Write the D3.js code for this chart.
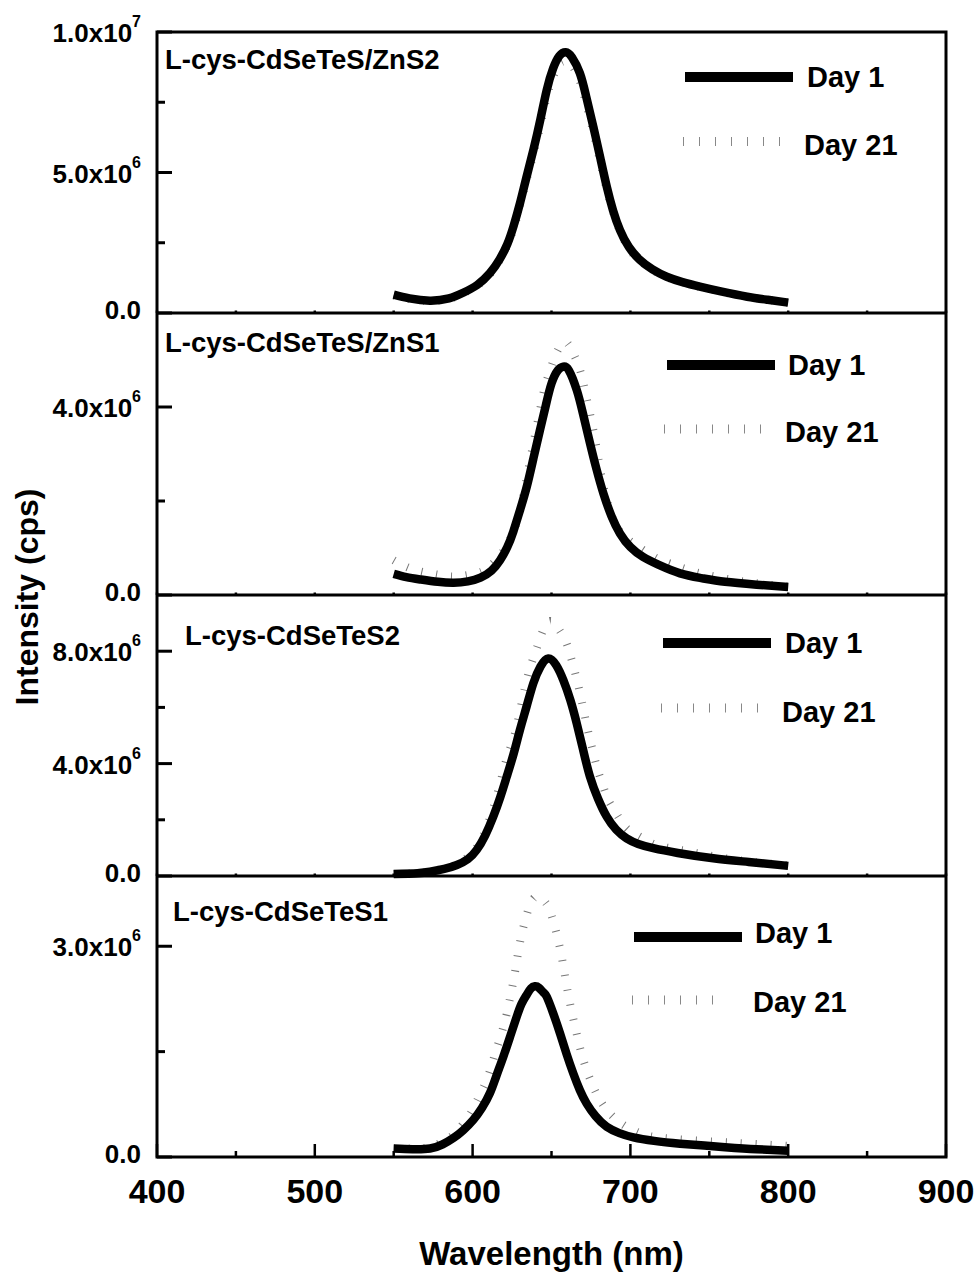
<!DOCTYPE html>
<html><head><meta charset="utf-8">
<script src="https://cdn.jsdelivr.net/npm/d3@7"></script>
<style>body{margin:0;background:#fff}svg{display:block}text{font-family:"Liberation Sans",Arial,sans-serif;font-weight:bold;fill:#000}</style>
</head><body><svg id="c" width="979" height="1276"></svg>
<script>
// ---------- data (intensity in units of 1e6 cps) ----------
const panelNames = ["L-cys-CdSeTeS/ZnS2","L-cys-CdSeTeS/ZnS1","L-cys-CdSeTeS2","L-cys-CdSeTeS1"];
const seriesNames = ["Day 1","Day 21"];
const yMax = [10, 6, 10, 4];
const yMajorTicks = [[0,5,10],[0,4],[0,4,8],[0,3]];
const yMinorTicks = [[2.5,7.5],[2],[2,6],[1.5]];
const xTicks = [400,500,600,700,800,900];
const xMinorTicks = [450,550,650,750,850];

const p1Day1 = [[550,0.65],[560,0.52],[573,0.44],[585,0.52],[594,0.72],[603,1.0],[611,1.42],[617,1.9],[622,2.45],[626,3.1],[630,3.9],[634,4.8],[638.5,5.8],[643,6.9],[647,7.94],[651,8.7],[655,9.15],[659,9.28],[663,9.1],[668,8.53],[672,7.7],[676.5,6.63],[681,5.5],[685,4.5],[689,3.65],[693.4,2.95],[699,2.35],[706,1.89],[714,1.55],[723,1.29],[733,1.1],[744,0.94],[758,0.76],[774,0.58],[787,0.47],[800,0.37]];
const p1Day21 = [[550,0.62],[560,0.5],[573,0.43],[585,0.5],[594,0.7],[603,0.97],[611,1.38],[617,1.85],[622,2.4],[626,3.0],[630,3.8],[634,4.7],[638.5,5.65],[643,6.7],[647,7.7],[651,8.4],[655,8.85],[659,8.95],[663,8.8],[668,8.25],[672,7.45],[676.5,6.45],[681,5.35],[685,4.4],[689,3.6],[693.4,2.9],[699,2.3],[706,1.86],[714,1.53],[723,1.27],[733,1.09],[744,0.93],[758,0.75],[774,0.58],[787,0.47],[800,0.37]];
const p2Day1 = [[550,0.45],[558,0.38],[567,0.33],[578,0.28],[588,0.26],[597,0.29],[605,0.37],[612,0.52],[617.4,0.74],[622,1.02],[625.8,1.35],[630,1.8],[634.3,2.3],[638.5,2.9],[642.7,3.51],[646.5,4.05],[650,4.5],[654,4.78],[657.5,4.86],[661,4.78],[666,4.36],[670,3.85],[674.4,3.23],[678.5,2.68],[682.9,2.16],[688,1.68],[693.4,1.31],[700,1.02],[708,0.81],[718,0.64],[731.5,0.46],[745,0.36],[760,0.28],[780,0.22],[800,0.17]];
const p2Day21 = [[550,0.74],[558,0.6],[567,0.5],[575,0.45],[584,0.4],[592,0.4],[602,0.46],[609,0.56],[616.5,0.8],[621.6,1.06],[627,1.45],[632,2.09],[636.4,2.85],[640.6,3.58],[643.7,4.1],[646,4.45],[649.2,4.79],[652.4,5.09],[655.6,5.3],[659,5.38],[662,5.26],[666,4.98],[669,4.68],[671.2,4.35],[676.5,3.51],[680.7,2.7],[685,2.02],[691.3,1.45],[699.7,1.15],[708,0.96],[716.6,0.78],[725,0.67],[740,0.5],[760,0.35],[780,0.25],[800,0.18]];
const p3Day1 = [[550,0.07],[565,0.1],[573,0.15],[582,0.25],[590,0.39],[597,0.6],[602.6,0.93],[608,1.45],[613,2.1],[617.5,2.8],[621.6,3.53],[626,4.35],[630,5.2],[634.3,6.05],[638.5,6.86],[643,7.45],[648,7.74],[653,7.5],[657.5,6.97],[662,6.25],[666,5.43],[670,4.5],[674.4,3.53],[679.5,2.75],[685,2.11],[691,1.65],[697.6,1.34],[705,1.14],[714.5,0.99],[730,0.82],[752.5,0.63],[775,0.5],[800,0.36]];
const p3Day21 = [[550,0.07],[565,0.1],[573,0.16],[582,0.27],[590,0.42],[597,0.68],[603,1.05],[608,1.6],[613,2.4],[617.5,3.3],[622,4.25],[627,5.1],[632,6.4],[636.4,7.4],[640.6,8.1],[644,8.65],[648,9.05],[652,9.0],[655,8.75],[658.6,8.4],[661.7,7.9],[666,7.0],[670,6.0],[673.4,5.1],[677.6,4.13],[679.7,3.7],[683,3.15],[686,2.7],[691.3,2.2],[697.6,1.7],[706,1.4],[716.6,1.1],[731.4,0.93],[748,0.75],[770,0.55],[800,0.38]];
const p4Day1 = [[550,0.12],[562,0.11],[573,0.12],[581,0.18],[587.8,0.27],[594,0.38],[600.5,0.53],[606,0.7],[611,0.91],[615,1.15],[619.5,1.43],[624,1.73],[628,2.0],[631,2.18],[634.3,2.31],[637,2.4],[639.5,2.43],[642,2.41],[645,2.34],[647,2.28],[651,2.05],[655.4,1.76],[659.5,1.47],[663.8,1.19],[668,0.95],[672.3,0.76],[678,0.58],[685,0.43],[693,0.34],[701.9,0.28],[715,0.23],[731.5,0.19],[760,0.14],[780,0.11],[800,0.09]];
const p4Day21 = [[550,0.12],[562,0.12],[573,0.14],[581,0.22],[588,0.32],[597.3,0.57],[602.6,0.79],[609,1.1],[614,1.45],[619.5,1.85],[622.7,2.15],[624.8,2.38],[627,2.65],[630,3.05],[634.3,3.45],[638,3.66],[641,3.7],[644.5,3.66],[648,3.56],[651.2,3.35],[655.4,2.97],[658.6,2.57],[661.7,2.19],[666,1.75],[670.2,1.38],[675.5,1.05],[680.7,0.81],[687,0.62],[695.5,0.46],[706,0.34],[720.8,0.27],[752.5,0.22],[775,0.19],[800,0.16]];
const day1Series = [p1Day1,p2Day1,p3Day1,p4Day1];
const day21Series = [p1Day21,p2Day21,p3Day21,p4Day21];

// ---------- layout ----------
const svg = d3.select("#c");
const L = 157, R = 946;
const tops = [32, 313, 595, 876], bottoms = [313, 595, 876, 1157];
const x = d3.scaleLinear().domain([400,900]).range([L,R]);
const labelPos = [[165,69],[165,352],[185,645],[173,921]];
// legend: [lineX0, lineX1, y1, textX1, base1, dX0, dX1, y21, textX21, base21]
const legPos = [
  [685,793,77,807,87, 683,780,141.5,804,155],
  [667,775,365,788,375, 664,761,429,785,442],
  [663,771,643,785,653, 661,758,708,782,722],
  [634,742,937,755,943, 632,728,1000,753,1012]
];

function fmt(v){ // v in 1e6 units
  if (v===0) return {m:"0.0",e:null};
  const val = v*1e6, e = Math.floor(Math.log10(val));
  return {m:(val/Math.pow(10,e)).toFixed(1)+"x10", e:String(e)};
}

for (let i=0;i<4;i++){
  const y = d3.scaleLinear().domain([0,yMax[i]]).range([bottoms[i],tops[i]]);
  const g = svg.append("g");
  const line = d3.line().x(d=>x(d[0])).y(d=>y(d[1])).curve(d3.curveNatural);
  // Day 21 (dotted, rendered as thin perpendicular ticks)
  g.append("path").attr("d",line(day21Series[i])).attr("fill","none")
    .attr("stroke","#777").attr("stroke-width",8).attr("stroke-dasharray","1 14");
  // Day 1
  g.append("path").attr("d",line(day1Series[i])).attr("fill","none")
    .attr("stroke","#000").attr("stroke-width",8.5).attr("stroke-linejoin","round");
  // y ticks
  yMajorTicks[i].forEach(t=>{
    g.append("line").attr("x1",L).attr("x2",L+15).attr("y1",y(t)).attr("y2",y(t)).attr("stroke","#000").attr("stroke-width",3);
    const f = fmt(t);
    const tx = g.append("text").attr("x",141).attr("y",y(t)+(t===0?6:10)).attr("text-anchor","end").style("font-size","26px");
    tx.append("tspan").text(f.m);
    if (f.e) tx.append("tspan").attr("dy",-15).style("font-size","16px").text(f.e);
  });
  yMinorTicks[i].forEach(t=>{
    g.append("line").attr("x1",L).attr("x2",L+8).attr("y1",y(t)).attr("y2",y(t)).attr("stroke","#000").attr("stroke-width",3);
  });
  // x ticks (tiny on inner panels)
  const isBottom = i===3;
  xTicks.concat(xMinorTicks).forEach(t=>{
    const major = xTicks.includes(t);
    const len = isBottom ? (major?13:6) : 2.5;
    g.append("line").attr("x1",x(t)).attr("x2",x(t)).attr("y1",bottoms[i]).attr("y2",bottoms[i]-len).attr("stroke","#000").attr("stroke-width",2.5);
  });
  // panel label
  g.append("text").attr("x",labelPos[i][0]).attr("y",labelPos[i][1]).style("font-size","27.5px").text(panelNames[i]);
  // legend
  const lp = legPos[i];
  g.append("line").attr("x1",lp[0]).attr("x2",lp[1]).attr("y1",lp[2]).attr("y2",lp[2]).attr("stroke","#000").attr("stroke-width",10);
  g.append("text").attr("x",lp[3]).attr("y",lp[4]).style("font-size","29px").text(seriesNames[0]);
  g.append("line").attr("x1",lp[5]).attr("x2",lp[6]).attr("y1",lp[7]).attr("y2",lp[7]).attr("stroke","#888").attr("stroke-width",9).attr("stroke-dasharray","1 15");
  g.append("text").attr("x",lp[8]).attr("y",lp[9]).style("font-size","29px").text(seriesNames[1]);
}

// frame and panel separators
svg.append("rect").attr("x",L).attr("y",tops[0]).attr("width",R-L).attr("height",bottoms[3]-tops[0]).attr("fill","none").attr("stroke","#000").attr("stroke-width",3);
[313,595,876].forEach(yy=>svg.append("line").attr("x1",L).attr("x2",R).attr("y1",yy).attr("y2",yy).attr("stroke","#000").attr("stroke-width",3));

// x tick labels
xTicks.forEach(t=>svg.append("text").attr("x",x(t)).attr("y",1203).attr("text-anchor","middle").style("font-size","34px").text(t));

// axis titles
svg.append("text").attr("x",(L+R)/2).attr("y",1265).attr("text-anchor","middle").style("font-size","33px").text("Wavelength (nm)");
svg.append("text").attr("transform","translate(38,597) rotate(-90)").attr("text-anchor","middle").style("font-size","32px").text("Intensity (cps)");
</script></body></html>
